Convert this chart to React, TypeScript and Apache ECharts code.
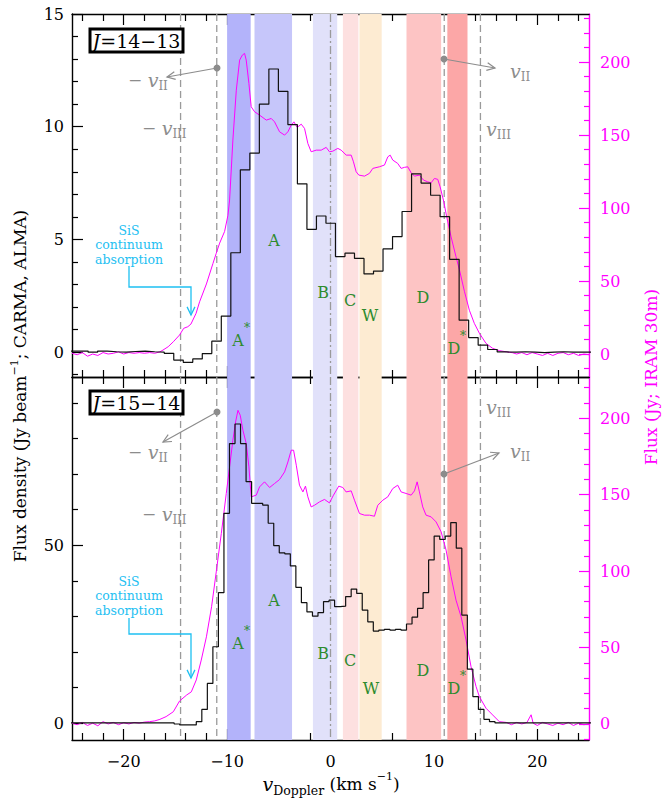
import React, { useEffect, useRef } from 'react';
import * as echarts from 'echarts';

const FONT = '"DejaVu Serif", serif';
const MAGENTA = '#ff00ff';
const GRAY = '#8c8c8c';
const GREEN = '#2e8b2e';
const CYAN = '#1ec0f2';

// ---- axis ticks ----
const xMajorTicks = [-20, -10, 0, 10, 20];
const xMinorTicks = [-24, -22, -18, -16, -14, -12, -8, -6, -4, -2, 2, 4, 6, 8, 12, 14, 16, 18, 22, 24];
const topLeftMajor = [0, 5, 10, 15];
const topLeftMinor = [-1, 1, 2, 3, 4, 6, 7, 8, 9, 11, 12, 13, 14];
const botLeftMajor = [0, 50];
const botLeftMinor = [10, 20, 30, 40, 60, 70, 80, 90];
const rightMajor = [0, 50, 100, 150, 200];
const topRightMinor = [-10, 10, 20, 30, 40, 60, 70, 80, 90, 110, 120, 130, 140, 160, 170, 180, 190, 210, 220, 230];
const botRightMinor = [-10, 10, 20, 30, 40, 60, 70, 80, 90, 110, 120, 130, 140, 160, 170, 180, 190, 210, 220];

// ---- velocity bands ----
const bandStart = [-10.0, -7.35, -1.7, 1.2, 2.8, 7.35, 11.3];
const bandEnd = [-7.72, -3.72, 0.65, 2.7, 4.95, 10.7, 13.25];
const bandColors = ['#b3b3fa', '#c6c6fa', '#e1e1fa', '#fde0e0', '#fdebd2', '#fdc4c4', '#fca7a7'];
const dashedVel = [-14.5, -11.0, 11.0, 14.5];
const dashDotVel = [0];

// ---- J=14-13 interferometer histogram (bin edges, values) ----
const topHistEdges = [-25.28, -24.36, -23.44, -22.52, -21.6, -20.68, -19.76, -18.84, -17.92, -17.0, -16.08, -15.16, -14.24, -13.32, -12.4, -11.48, -10.56, -9.64, -8.72, -7.8, -6.88, -5.96, -5.04, -4.12, -3.2, -2.28, -1.36, -0.44, 0.48, 1.4, 2.32, 3.24, 4.16, 5.08, 6.0, 6.92, 7.84, 8.76, 9.68, 10.6, 11.52, 12.44, 13.36, 14.28, 15.2, 16.12, 17.04, 17.96, 18.88, 19.8, 20.72, 21.64, 22.56, 23.48, 24.4, 25.32];
const topHistValues = [0.05, 0.05, 0.0, 0.05, 0.02, 0.0, 0.03, 0.05, 0.02, 0.0, -0.05, -0.35, -0.45, -0.3, -0.06, 0.49, 1.6, 4.41, 8.09, 8.83, 11.0, 12.56, 11.57, 10.09, 7.47, 5.45, 6.04, 5.72, 4.24, 4.39, 4.16, 3.47, 3.6, 4.58, 5.13, 6.24, 7.91, 7.5, 6.96, 6.01, 4.12, 1.42, 0.65, 0.31, 0.12, 0.01, 0.0, 0.02, 0.0, -0.02, 0.0, 0.02, 0.0, 0.0, 0.0];

// ---- J=15-14 interferometer histogram ----
const botHistEdges = [-25.3, -15.12, -14.585, -12.98, -12.445, -11.91, -11.375, -10.84, -10.305, -9.77, -9.235, -8.7, -8.165, -7.63, -7.095, -6.56, -6.025, -5.49, -4.955, -4.42, -3.885, -3.35, -2.815, -2.28, -1.745, -1.21, -0.675, -0.14, 0.395, 0.93, 1.465, 2.0, 2.535, 3.07, 3.605, 4.14, 4.675, 5.21, 5.745, 6.28, 6.815, 7.35, 7.885, 8.42, 8.955, 9.49, 10.025, 10.56, 11.095, 11.63, 12.165, 12.7, 13.235, 13.77, 14.305, 14.84, 15.375, 15.91, 25.3];
const botHistValues = [0.1, -0.2, -0.45, 0.45, 3.9, 11.2, 21.5, 36.7, 59, 78.6, 84.1, 78.6, 67.9, 61.8, 61.8, 61.3, 56.2, 49.9, 47.9, 47.6, 44.2, 38.2, 33.9, 31.3, 30.1, 31.1, 34.2, 34.6, 32.8, 32.9, 35.6, 37.7, 36.5, 31.8, 28.5, 25.9, 26.2, 26.4, 26.2, 26.4, 26.2, 27.9, 29.8, 32.3, 36.7, 45.9, 52.6, 51.7, 52.6, 56.4, 49.2, 30.4, 15.2, 7.5, 3.9, 1.1, 0.45, 0.1];

// ---- IRAM 30m single-dish spectra ----
const topIramVel = [-25, -24.5, -24, -23.5, -23, -22.5, -22, -21.5, -21, -20.5, -20, -19.5, -19, -18.5, -18, -17.5, -17, -16.5, -16.2, -15.7, -15.2, -14.6, -14.2, -13.8, -13.5, -13.0, -12.66, -12.0, -11.37, -11.05, -10.72, -10.24, -9.92, -9.76, -9.44, -9.11, -8.79, -8.53, -8.31, -8.15, -7.89, -7.67, -7.34, -6.86, -6.21, -5.73, -5.41, -4.93, -4.44, -4.12, -3.8, -3.54, -3.22, -2.83, -2.51, -2.19, -1.87, -1.38, -0.9, -0.42, -0.1, 0.22, 0.71, 1.03, 1.52, 2.0, 2.22, 2.48, 2.74, 3.29, 3.77, 4.09, 4.73, 5.22, 5.54, 5.77, 6.02, 6.5, 6.83, 7.15, 7.47, 7.8, 8.12, 8.6, 8.99, 9.4, 9.73, 10.05, 10.37, 10.6, 10.92, 11.24, 11.66, 12.14, 12.46, 12.95, 13.43, 13.91, 14.4, 15.04, 15.68, 16.33, 17.0, 17.6, 18, 18.5, 19, 19.5, 20, 20.5, 21, 21.5, 22, 22.5, 23, 23.5, 24, 24.5, 25];
const topIramFlux = [0.5, -0.5, 1, -1.5, 0, -1, 1, 0, 0.5, 1.5, 0, 1, 0.5, 1, 0.5, 1, 0.5, 1.5, 2.7, 5, 8.4, 13, 17.6, 18.7, 20.5, 27.9, 35.8, 48, 62, 69, 76, 84, 95, 105.5, 146.6, 180.8, 201.4, 204.8, 206, 201.4, 185.4, 169.4, 166, 163.7, 160.3, 161.4, 159.1, 152.3, 150, 152.3, 156.8, 159.1, 155.3, 157.5, 154.6, 144.3, 138.6, 139.7, 139.7, 141.6, 138.6, 139, 140.9, 139.7, 136.3, 136.3, 131.7, 124.9, 122.6, 121.9, 123.8, 127.2, 128.3, 129.5, 135.1, 136.3, 132.9, 130.6, 127.2, 127.9, 128.3, 124.2, 121.9, 122.6, 119.2, 118, 117.3, 120.3, 119.7, 114.6, 105.5, 94, 80.3, 66.6, 58, 43, 30, 21, 14.2, 7.3, 3.9, 2.3, 1.5, 0.9, 0, 1, -0.5, 1, 0, -1, 0.5, -1, 0.5, 1, -0.5, 0.5, -1, 0, -0.5];

const botIramVel = [-25, -24.5, -24, -23.5, -23, -22.5, -22, -21.5, -21, -20.5, -20, -19.5, -19, -18.5, -18, -17.5, -17, -16.5, -15.9, -15.2, -14.6, -13.9, -13.46, -12.98, -12.5, -12.0, -11.5, -11.04, -10.56, -10.08, -9.76, -9.44, -9.18, -8.95, -8.73, -8.47, -8.15, -7.89, -7.67, -7.18, -6.86, -6.38, -5.89, -5.41, -4.93, -4.44, -4.12, -3.8, -3.57, -3.31, -3.0, -2.67, -2.42, -2.19, -1.87, -1.55, -1.06, -0.58, -0.1, 0.29, 0.8, 1.19, 1.51, 2.0, 2.32, 2.8, 3.29, 3.77, 4.25, 4.57, 5.06, 5.54, 6.02, 6.5, 6.83, 7.31, 7.8, 8.12, 8.38, 8.6, 8.92, 9.24, 9.73, 10.21, 10.7, 11.18, 11.66, 12.14, 12.63, 13.11, 13.59, 14.08, 14.4, 15.04, 15.68, 16.33, 17, 17.5, 18, 18.5, 19, 19.4, 19.6, 20, 20.5, 21, 21.5, 22, 22.5, 23, 23.5, 24, 24.5, 25];
const botIramFlux = [0.5, -0.5, 1, -1, 0.5, -1.2, 1.5, 0, 1, -0.5, 0.8, 0, 1, 0.5, 1.2, 1.5, 2, 3, 4.8, 8, 15, 19, 21, 28.8, 41.8, 57, 76.7, 100, 124.6, 150.8, 168.2, 185.6, 197.6, 205.2, 202, 192.2, 183.5, 168.2, 148.6, 149.7, 155.1, 158.4, 154.7, 157.3, 159.9, 164.9, 171.4, 179.1, 179.1, 169.3, 156.2, 151.8, 155.6, 148.6, 142, 143.1, 145.3, 146.9, 144.6, 149.7, 155.6, 154.7, 151.8, 152.5, 146.4, 137.7, 136.6, 136.6, 135.9, 143.1, 146.4, 148.6, 154, 156.2, 151.8, 150.8, 149.7, 152.5, 158.4, 151.8, 142, 136.6, 135.5, 132.2, 125.7, 113.7, 96.3, 81, 70.1, 54.9, 37.5, 24.4, 17.8, 10.3, 5.9, 1.5, 1, -0.5, 1, 0, 1, 6, 0.5, -1, 1, 0, -1, 0.5, -0.5, 1, -1, 0.5, -0.5, 0];

const histData = (edges: number[], values: number[]) =>
  edges.map((e, i) => [e, values[Math.min(i, values.length - 1)]]);
const lineData = (v: number[], f: number[]) => v.map((x, i) => [x, f[i]]);
const fmt = (v: number) => String(v).replace('-', '\u2212');

function xAxesFor(gridIndex: number, labels: boolean) {
  const base = { type: 'value', gridIndex, min: -25, max: 25, splitLine: { show: false } };
  const tickStyle = { color: '#000', width: 1.2 };
  const mk = (position: string, major: boolean, showLabel: boolean) => ({
    ...base,
    position,
    axisLine: { show: major, onZero: false, lineStyle: { color: '#000', width: 1.4 } },
    axisTick: { show: true, inside: true, length: major ? 11 : 7, customValues: major ? xMajorTicks : xMinorTicks, lineStyle: tickStyle },
    axisLabel: { show: showLabel, customValues: xMajorTicks, formatter: fmt, margin: 13, fontFamily: FONT, fontSize: 16, color: '#000' },
  });
  return [mk('bottom', true, labels), mk('bottom', false, false), mk('top', true, false), mk('top', false, false)];
}

function yAxesFor(gridIndex: number, lmin: number, lmax: number, lMaj: number[], lMin: number[], rmin: number, rmax: number, rMin: number[]) {
  const left = (major: boolean) => ({
    type: 'value', gridIndex, min: lmin, max: lmax, position: 'left', splitLine: { show: false },
    axisLine: { show: major, onZero: false, lineStyle: { color: '#000', width: 1.4 } },
    axisTick: { show: true, inside: true, length: major ? 11 : 6, customValues: major ? lMaj : lMin, lineStyle: { color: '#000', width: 1.2 } },
    axisLabel: { show: major, customValues: lMaj, formatter: fmt, margin: 8, fontFamily: FONT, fontSize: 16, color: '#000' },
  });
  const right = (major: boolean) => ({
    type: 'value', gridIndex, min: rmin, max: rmax, position: 'right', splitLine: { show: false },
    axisLine: { show: major, onZero: false, lineStyle: { color: MAGENTA, width: 1.4 } },
    axisTick: { show: true, inside: true, length: major ? 10 : 5, customValues: major ? rightMajor : rMin, lineStyle: { color: MAGENTA, width: 1.2 } },
    axisLabel: { show: major, customValues: rightMajor, formatter: fmt, margin: 11, fontFamily: FONT, fontSize: 16, color: MAGENTA },
  });
  return [left(true), left(false), right(true), right(false)];
}

function panelSeries(xi: number, yl: number, yr: number, hist: number[][], iram: number[][]) {
  const bandData = bandStart.map((s, i) => [s, bandEnd[i], i]);
  const vlineData = [...dashedVel.map((v) => [v, 0]), ...dashDotVel.map((v) => [v, 1])];
  return [
    {
      type: 'custom', xAxisIndex: xi, yAxisIndex: yl, z: 1, silent: true,
      data: bandData,
      renderItem: (params: any, api: any) => {
        const cs = params.coordSys;
        const x1 = api.coord([api.value(0), 0])[0];
        const x2 = api.coord([api.value(1), 0])[0];
        return { type: 'rect', shape: { x: x1, y: cs.y, width: x2 - x1, height: cs.height }, style: { fill: bandColors[api.value(2)] } };
      },
    },
    {
      type: 'custom', xAxisIndex: xi, yAxisIndex: yl, z: 2, silent: true,
      data: vlineData,
      renderItem: (params: any, api: any) => {
        const cs = params.coordSys;
        const x = api.coord([api.value(0), 0])[0];
        const dd = api.value(1) === 1;
        return {
          type: 'line', shape: { x1: x, y1: cs.y, x2: x, y2: cs.y + cs.height },
          style: { stroke: '#9a9a9a', lineWidth: 1.3, lineDash: dd ? [8, 3, 2, 3] : [7, 4] },
        };
      },
    },
    {
      type: 'line', xAxisIndex: xi, yAxisIndex: yr, z: 3, data: iram, showSymbol: false, symbol: 'none',
      lineStyle: { color: MAGENTA, width: 1 }, silent: true,
    },
    {
      type: 'line', xAxisIndex: xi, yAxisIndex: yl, z: 4, data: hist, step: 'end', showSymbol: false, symbol: 'none',
      lineStyle: { color: '#111', width: 1.2 }, silent: true,
    },
  ];
}

function arrowHead(x1: number, y1: number, x2: number, y2: number, len: number, spread: number) {
  const a = Math.atan2(y2 - y1, x2 - x1);
  return [
    [x2 - len * Math.cos(a - spread), y2 - len * Math.sin(a - spread)],
    [x2, y2],
    [x2 - len * Math.cos(a + spread), y2 - len * Math.sin(a + spread)],
  ];
}

const vRich = {
  v: { fontFamily: FONT, fontStyle: 'italic', fontSize: 19, fill: GRAY, color: GRAY, lineHeight: 24, verticalAlign: 'middle' },
  s: { fontFamily: FONT, fontSize: 12, fill: GRAY, color: GRAY, lineHeight: 24, verticalAlign: 'bottom' },
};

function gText(x: number, y: number, text: string, opts: any = {}) {
  const align = opts.align || 'center';
  const valign = opts.valign || 'middle';
  return {
    type: 'text', x, y, rotation: opts.rotation || 0, z: 100, silent: true,
    style: {
      text, fill: opts.fill || '#000', fontFamily: FONT, fontSize: opts.fontSize || 16,
      fontStyle: opts.fontStyle || 'normal', fontWeight: opts.fontWeight || 'normal',
      textAlign: align, align, textVerticalAlign: valign, verticalAlign: valign,
      rich: opts.rich, lineHeight: opts.lineHeight,
    },
  };
}

function vAnnotations(dot: number[], tip: number[], labII: number[], labIII: number[], neg: boolean) {
  const prefix = neg ? '\u2212 ' : '';
  const els: any[] = [
    { type: 'circle', z: 100, shape: { cx: dot[0], cy: dot[1], r: 3.5 }, style: { fill: GRAY } },
    { type: 'line', z: 100, shape: { x1: dot[0], y1: dot[1], x2: tip[0], y2: tip[1] }, style: { stroke: GRAY, lineWidth: 1.2 } },
    { type: 'polyline', z: 100, shape: { points: arrowHead(dot[0], dot[1], tip[0], tip[1], 9, 0.45) }, style: { stroke: GRAY, lineWidth: 1.2, fill: 'none' } },
    gText(labII[0], labII[1], prefix + '{v|v}{s|II}', { align: 'left', fill: GRAY, fontSize: 17, rich: vRich }),
    gText(labIII[0], labIII[1], prefix + '{v|v}{s|III}', { align: 'left', fill: GRAY, fontSize: 17, rich: vRich }),
  ];
  return els;
}

function sisAnnotation(textY: number, pathTop: number, elbowY: number, tipY: number) {
  const lines = ['SiS', 'continuum', 'absorption'];
  const els: any[] = lines.map((t, i) => gText(129, textY + i * 14.5, t, { fill: CYAN, fontSize: 12.5 }));
  els.push({ type: 'polyline', z: 100, shape: { points: [[129, pathTop], [129, elbowY], [191, elbowY], [191, tipY]] }, style: { stroke: CYAN, lineWidth: 1.3, fill: 'none' } });
  els.push({ type: 'polyline', z: 100, shape: { points: arrowHead(191, tipY - 10, 191, tipY, 9, 0.45) }, style: { stroke: CYAN, lineWidth: 1.3, fill: 'none' } });
  return els;
}

function greenLabels(pos: Record<string, number[]>) {
  const els: any[] = [];
  Object.keys(pos).forEach((k) => {
    const p = pos[k];
    const letter = k.replace('*', '');
    els.push(gText(p[0], p[1], letter, { fill: GREEN, fontSize: 16 }));
    if (k.includes('*')) els.push(gText(p[0] + 9, p[1] - 12, '*', { fill: GREEN, fontSize: 12 }));
  });
  return els;
}

function jBox(y: number, label: string) {
  return [
    { type: 'rect', z: 100, shape: { x: 90, y, width: 93, height: 23 }, style: { fill: '#fff', stroke: '#000', lineWidth: 3 } },
    gText(136.5, y + 12, '{j|J}' + label, {
      fontSize: 19,
      rich: { j: { fontFamily: FONT, fontStyle: 'italic', fontSize: 19, fill: '#000' } },
    }),
  ];
}

export default function App() {
  const ref = useRef<HTMLDivElement>(null);
  useEffect(() => {
    document.body.style.margin = '0';
    const chart = echarts.init(ref.current!, null, { renderer: 'svg' });
    const graphic: any[] = [
      ...jBox(29, '=14\u221213'),
      ...jBox(391, '=15\u221214'),
      ...vAnnotations([217, 68], [167, 77], [128, 80], [142, 128], true),
      ...vAnnotations([444, 59], [495, 68], [510, 71], [486, 129], false),
      ...vAnnotations([217, 412], [163, 442], [128, 452], [142, 514], true),
      ...vAnnotations([444, 474], [499, 453], [510, 451], [486, 407], false),
      ...sisAnnotation(230, 266, 287, 315),
      ...sisAnnotation(581, 618, 634, 678),
      ...greenLabels({ A: [274, 240], B: [323, 292], C: [350, 300], W: [370, 315], D: [423, 297], 'A*': [238, 340], 'D*': [454, 348] }),
      ...greenLabels({ A: [274, 600], B: [323, 653], C: [350, 660], W: [371, 688], D: [423, 670], 'A*': [238, 643], 'D*': [454, 688] }),
      gText(20, 386, 'Flux density (Jy beam{sup|\u22121}; CARMA, ALMA)', {
        rotation: Math.PI / 2, fontSize: 17,
        rich: { sup: { fontFamily: FONT, fontSize: 11, verticalAlign: 'top', fill: '#000', lineHeight: 22 } },
      }),
      gText(651, 377, 'Flux (Jy; IRAM 30m)', { rotation: Math.PI / 2, fontSize: 17, fill: MAGENTA }),
      gText(331, 784, '{v|v}{sub|Doppler} (km s{sup|\u22121})', {
        fontSize: 17,
        rich: {
          v: { fontFamily: FONT, fontStyle: 'italic', fontSize: 19, fill: '#000', lineHeight: 26, verticalAlign: 'middle' },
          sub: { fontFamily: FONT, fontSize: 12.5, fill: '#000', lineHeight: 26, verticalAlign: 'bottom' },
          sup: { fontFamily: FONT, fontSize: 11, fill: '#000', lineHeight: 26, verticalAlign: 'top' },
        },
      }),
    ];
    chart.setOption({
      animation: false,
      backgroundColor: '#fff',
      grid: [
        { left: 72, top: 14, width: 517, height: 363 },
        { left: 72, top: 377, width: 517, height: 363 },
      ],
      xAxis: [...xAxesFor(0, false), ...xAxesFor(1, true)],
      yAxis: [
        ...yAxesFor(0, -1.1, 15, topLeftMajor, topLeftMinor, -15.75, 233, topRightMinor),
        ...yAxesFor(1, -4.7, 97.3, botLeftMajor, botLeftMinor, -10.5, 227, botRightMinor),
      ],
      series: [
        ...panelSeries(0, 0, 2, histData(topHistEdges, topHistValues), lineData(topIramVel, topIramFlux)),
        ...panelSeries(4, 4, 6, histData(botHistEdges, botHistValues), lineData(botIramVel, botIramFlux)),
      ],
      graphic,
    } as any);
    return () => chart.dispose();
  }, []);
  return <div ref={ref} style={{ width: 668, height: 798 }} />;
}
